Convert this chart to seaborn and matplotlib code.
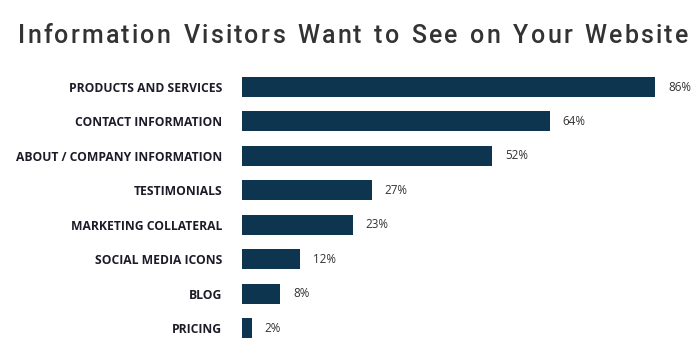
import pandas as pd
import seaborn as sns
import matplotlib.pyplot as plt

categories = ['PRODUCTS AND SERVICES', 'CONTACT INFORMATION', 'ABOUT / COMPANY INFORMATION',
              'TESTIMONIALS', 'MARKETING COLLATERAL', 'SOCIAL MEDIA ICONS', 'BLOG', 'PRICING']
values = [86, 64, 52, 27, 23, 12, 8, 2]
value_labels = ['86%', '64%', '52%', '27%', '23%', '12%', '8%', '2%']
title = 'Information Visitors Want to See on Your Website'

data = pd.DataFrame({'Category': categories, 'Percent': values})

sns.set_theme(style='white')
plt.rcParams['font.family'] = ['Open Sans', 'DejaVu Sans']

fig = plt.figure(figsize=(7, 3.6), dpi=100)
ax = fig.add_axes([242 / 700, 0.041, 448 / 700, 0.765])

sns.barplot(data=data, x='Percent', y='Category', color='#0e354f',
            saturation=1, width=0.58, linewidth=0, ax=ax)

ax.set_xlim(0, 448 / 4.805)
ax.set_ylim(len(categories) - 0.5, -0.5)
ax.set_xlabel('')
ax.set_ylabel('')
ax.set_xticks([])
ax.tick_params(axis='y', length=0, pad=14.4)
for lbl in ax.get_yticklabels():
    lbl.set_fontweight('bold')
    lbl.set_fontsize(8.7)
    lbl.set_color('#1c1c28')
sns.despine(ax=ax, left=True, bottom=True)

for i, (v, t) in enumerate(zip(values, value_labels)):
    ax.annotate(t, (v, i), xytext=(9.4, 0), textcoords='offset points',
                va='center', ha='left', fontsize=8.4, color='#333333')

# title with letter spacing: place one character at a time to span ~670 px
renderer = fig.canvas.get_renderer()
style = dict(fontsize=18, color='#333333', fontweight='medium',
             family=['Roboto', 'DejaVu Sans'], va='baseline', ha='left')
widths = []
for ch in title:
    t = fig.text(0, 0, ch if ch != ' ' else 'n', **style)
    w = t.get_window_extent(renderer).width
    if ch == ' ':
        w *= 0.6
    widths.append(w)
    t.remove()
tracking = (670 - sum(widths)) / (len(title) - 1)
x = 18
for ch, w in zip(title, widths):
    if ch != ' ':
        fig.text(x / 700, 1 - 43 / 360, ch, **style)
    x += w + tracking

fig.savefig('out.png', dpi=100)
